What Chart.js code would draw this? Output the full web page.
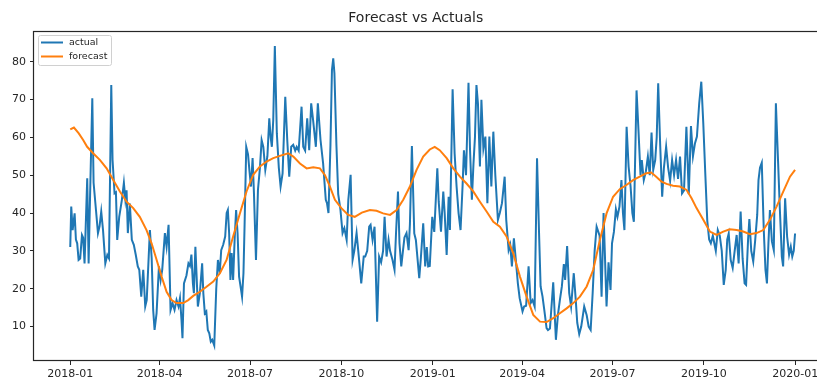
<!DOCTYPE html>
<html>
<head>
<meta charset="utf-8">
<title>Forecast vs Actuals</title>
<script src="https://cdn.jsdelivr.net/npm/chart.js@4/dist/chart.umd.min.js"></script>
<style>
  html, body { margin: 0; padding: 0; background: #fff; overflow: hidden; }
  #wrap { width: 840px; height: 380px; }
</style>
</head>
<body>
<div id="wrap"><canvas id="chart" width="840" height="380"></canvas></div>
<script>
// x values are days since 2018-01-01
const tickDays = [0, 90, 181, 273, 365, 455, 546, 638, 730];
const tickLabels = ['2018-01', '2018-04', '2018-07', '2018-10', '2019-01', '2019-04', '2019-07', '2019-10', '2020-01'];
const yTicks = [10, 20, 30, 40, 50, 60, 70, 80];

const actualDay = [
  0, 1, 2.4, 4.4, 5.7, 7, 8.4, 10, 11.8, 13, 14.4, 17.1, 18.5, 20, 22.2, 23.5, 25.9, 27.9, 29.5, 31.2,
  33, 35.3, 37.3, 39, 41.3, 42.6, 44.6, 46, 47.3, 49.3, 52, 54, 55.5, 56.7, 58, 60, 62, 64, 66, 68,
  69.5, 71.5, 73.5, 75.5, 77, 79, 80.2, 82, 83.5, 84.9, 86.9, 89.3, 91, 92.6, 95.3, 97, 99, 101, 103, 105,
  107, 109, 110.5, 112, 113, 114.5, 117, 119, 120.5, 122, 123.5, 124.5, 126, 128.5, 130.5, 132.8, 134, 135.5, 137, 138.5,
  140, 141.5, 143, 145, 147, 148.7, 150.5, 152, 154, 156, 157.5, 158.7, 160, 161.3, 162.5, 164, 165.5, 167, 168.5, 170,
  172, 173, 174.4, 175.5, 177.2, 179, 180.5, 182, 183.6, 185, 187, 189, 191, 192.7, 194.4, 196.4, 198.5, 200.4, 201.8, 203,
  204.4, 206, 208, 210, 211.8, 213.8, 216.5, 218.5, 220.5, 222.5, 224.5, 226.5, 228, 230, 232.9, 234.6, 236.5, 238.6, 240.6, 242.6,
  244.5, 247.3, 249.3, 252, 254.6, 257.3, 258.5, 260, 262, 263.5, 264.8, 266, 268, 269.8, 272, 274.2, 276, 278.3, 280, 282.3,
  284.3, 286, 288.3, 290, 293, 295.5, 297, 299, 301, 302.4, 304.4, 306.4, 309, 311, 313, 315, 316.5, 318.5, 320.5, 322,
  324.5, 326.5, 328, 330, 331.5, 333.3, 335, 336.5, 338.6, 340.7, 342, 344, 346.4, 348, 351.4, 353, 355.4, 357.4, 359, 360.4,
  362, 364.5, 366.5, 369.6, 371, 373.3, 375.6, 377, 379, 381, 382.3, 385, 387, 389, 391, 393, 395, 396.4, 398.5, 401,
  402.5, 404.4, 406, 407.5, 409, 410.5, 412.5, 414, 416, 418, 420, 422, 424, 426, 428, 430.6, 432.5, 434.7, 437.4, 439,
  441.4, 443, 444.7, 446.7, 448.5, 450.7, 452.5, 455.4, 457, 459, 461.5, 463.6, 465.5, 467.6, 470, 472, 473.6, 475.5, 477.5, 479.6,
  481, 483, 486.3, 489, 491, 493, 495, 497, 498.3, 500.3, 502.4, 504.3, 507, 509, 510.5, 512.5, 514.5, 517.5, 520, 522,
  524, 526, 528, 530, 533, 535, 537, 540, 542, 544, 545.5, 547.4, 549.4, 551, 553, 555, 556.5, 558, 560.2, 562.2,
  564.2, 566, 567.5, 570.2, 572.2, 574.2, 575.5, 577.5, 579.6, 581.6, 583.5, 585.3, 587, 589, 590.5, 592, 594, 596, 597.7, 600,
  602, 604, 606, 608, 610, 612, 614, 616, 618, 620.4, 622.8, 625, 627, 629, 631, 633.3, 635.4, 637.4, 639.4, 641.4,
  643.3, 645, 647, 648.5, 650, 652, 654, 656, 658, 660, 661.5, 663, 665, 667, 669, 671, 673, 675, 677, 679,
  680.5, 682.5, 683.8, 685.7, 687.7, 689.7, 691.7, 693, 694.5, 696.3, 698.3, 700, 701.5, 703, 704.5, 706.5, 708.4, 710.5, 712.5, 714.5,
  716.5, 717.8, 719.8, 721.8, 723.8, 725.5, 727, 728.5, 729.8
];
const actualValue = [
  31, 41.7, 35.5, 39.9, 33, 32, 27.6, 28, 34.2, 33.5, 26.7, 49.2, 26.7, 45, 70.3, 48, 40.8, 34.7, 36.5, 40.4,
  35.5, 26.7, 28.9, 28, 73.8, 54, 45.2, 45.5, 32.9, 39, 43.5, 48, 43.5, 46, 34.7, 42.5, 32.9, 31.6, 28.9, 25.9,
  25, 17.9, 25, 15.3, 17, 28.5, 35.5, 28, 14.4, 9.1, 13.5, 25.9, 22.3, 25, 34.7, 31.1, 36.9, 14.4, 16.2, 14.4,
  17, 15.3, 17.5, 11.8, 6.9, 21.4, 23.5, 26.7, 26, 29, 21.4, 18.8, 31.1, 15.3, 18.8, 26.7, 18.8, 13.5, 14, 9.1,
  8.2, 6, 6.5, 5, 20, 27.6, 24.1, 30.2, 31.6, 33.8, 40, 40.8, 34.6, 22.3, 29.4, 22.3, 32.9, 40.8, 34.6, 23.2,
  19.7, 17.9, 24.1, 36.4, 57.5, 55.5, 51, 47, 54.5, 45, 27.6, 46.1, 52, 59.3, 57.5, 51.4, 55, 65, 60, 57.5,
  64.6, 84.1, 61.1, 52, 47, 50.5, 70.7, 59.3, 49.6, 57.5, 58, 56.5, 57.5, 56.5, 68.1, 57.5, 56.5, 65, 56.6, 69,
  64.6, 57.5, 69, 59.3, 53.1, 43.5, 42.6, 40, 58, 77.8, 80.9, 76.9, 58, 45, 41, 34.7, 36, 32.9, 43.5, 50.1,
  27.6, 30, 34.7, 30, 21.4, 28.5, 28.5, 30, 36.4, 36.9, 32.9, 36.4, 11.3, 28.5, 27, 30, 39, 28.5, 32.9, 30,
  27.6, 25, 34.6, 45.7, 32, 25.9, 30, 33.5, 34.7, 30.2, 37, 57.7, 34.6, 32.9, 22.8, 28, 37.3, 25.9, 31, 25.9,
  26, 39, 35, 51.8, 43, 35.1, 45.7, 40, 28.9, 44.3, 35.5, 72.7, 55.8, 47, 40, 35.5, 47, 56.6, 50, 74.4,
  57, 43.5, 53, 60, 73.8, 69, 52.3, 69.9, 57, 60.2, 42.6, 60.2, 47, 61.5, 50, 38.2, 40, 42.6, 49.6, 38.2,
  30.2, 31.6, 25.9, 33.3, 28, 21.4, 17.5, 14, 15.3, 15.5, 25.9, 16.2, 17, 15.3, 54.5, 35, 20.6, 18, 14, 9.6,
  9.1, 9.5, 21.7, 6.5, 13, 17, 20.6, 26.5, 22.3, 31.3, 18.8, 15.3, 24.1, 17, 11, 8, 10, 15.3, 13, 10,
  9.1, 18.8, 30, 36.4, 34, 17.9, 40, 15.3, 27, 19.7, 32, 35, 41, 39, 41.7, 48.7, 40, 35.5, 62.8, 52.3,
  47, 40, 37.7, 72.4, 61.5, 50, 54, 48.7, 51, 54.9, 50, 61.3, 51.4, 54, 60, 74.3, 58, 44.3, 51.8, 57.5,
  52, 48.5, 54, 50, 54, 49, 54.9, 45.2, 46, 62.8, 45, 63, 55, 58.4, 60.2, 69, 74.7, 63.7, 50.5, 38,
  33, 32, 34, 32, 30, 35.5, 34, 30, 21, 25, 33, 34.6, 27.6, 25.5, 30, 34.2, 26.7, 40.4, 28, 21.4,
  21, 33, 38.4, 30, 27.2, 32.9, 39.5, 48.7, 52, 53.3, 35.5, 25, 21.4, 32, 40.8, 32.5, 30.2, 69, 55, 41,
  28.5, 25.9, 43.9, 33.8, 29, 31.1, 28.5, 30, 34.6
];

const forecastDay = [
  0, 3.7, 8.4, 13, 17, 23, 30, 36.6, 43.3, 50, 56.7, 63.4, 70, 76.8, 81.9, 87, 92, 97, 102, 107,
  113.8, 118.8, 123.8, 130.5, 137.2, 144, 150.7, 157.4, 164, 170.8, 177.5, 184.2, 191, 197.7, 204.4, 211, 219.5, 224.6, 231.3, 238,
  244.7, 251.4, 256.5, 261.5, 266.5, 273, 279.8, 286.5, 293.6, 301.7, 308.4, 315, 322, 328.6, 335.3, 342, 348.7, 355.4, 362, 367,
  372, 379, 385.7, 392.4, 399, 405.8, 412.5, 419.2, 426, 432.6, 439.3, 446, 452.8, 459.5, 466.2, 473, 479.6, 486.3, 493, 499.8,
  506.5, 513.2, 520, 526.6, 533.3, 540, 546.6, 553.3, 560, 566.7, 573.4, 580, 585, 590, 595.4, 600.4, 607, 613.8, 620.6, 625.6,
  630.6, 637.4, 644, 650.8, 657.5, 664, 671, 677.6, 684.3, 691, 697.8, 704.5, 711.2, 718, 724.7, 729.8
];
const forecastValue = [
  62.1, 62.6, 61.1, 59.3, 57.5, 55.8, 54, 51.8, 48.7, 45.7, 43, 41.3, 39, 35.5, 32, 27.6, 23.2, 19.2, 17, 16.2,
  16.2, 17, 18.1, 19.2, 20.5, 21.9, 24.1, 27.6, 33.8, 39.9, 45.7, 50.1, 52.3, 53.6, 54.5, 55.1, 55.8, 54.9, 53.1, 51.8,
  52.1, 51.8, 50, 47, 43.5, 41.3, 39.5, 39, 40.1, 40.8, 40.6, 39.9, 39.5, 40.8, 43.5, 47, 51.4, 54.9, 56.8, 57.5,
  56.6, 54.5, 51.8, 49.6, 47.8, 45.7, 43, 40.4, 37.7, 36.4, 33.8, 29.4, 23.2, 17.9, 13.1, 11.3, 11.2, 12.2, 13.5, 14.8,
  16.2, 17.9, 20.6, 25, 32.9, 39.9, 44.3, 46.3, 47.4, 48.7, 49.6, 50.5, 50.7, 49.6, 48.3, 47.7, 47.2, 47, 46.1, 43.9,
  41.3, 38.2, 35.1, 34.2, 35.1, 35.7, 35.5, 35.1, 34.4, 34.7, 35.5, 38.2, 41.7, 45.7, 49.6, 51.4
];

const FONT = 'DejaVu Sans';
const INK = '#262626';

function toPoints(xs, ys) {
  return xs.map((x, i) => ({ x, y: ys[i] }));
}

// matplotlib-style frame round the plot area
const framePlugin = {
  id: 'frame',
  afterDraw(chart) {
    const { ctx, chartArea: a } = chart;
    ctx.save();
    ctx.strokeStyle = INK;
    ctx.lineWidth = 1.2;
    ctx.strokeRect(Math.round(a.left) - 0.5, Math.round(a.top) + 0.5,
                   Math.round(a.right - a.left) + 1, Math.round(a.bottom - a.top) - 1);
    ctx.restore();
  }
};

// legend box in the upper left corner of the plot
const boxLegendPlugin = {
  id: 'boxLegend',
  afterDraw(chart) {
    const { ctx, chartArea: a } = chart;
    const x = a.left + 4, y = a.top + 4, w = 73, h = 30;
    ctx.save();
    ctx.fillStyle = 'rgba(255,255,255,0.85)';
    ctx.strokeStyle = '#d0d0d0';
    ctx.lineWidth = 1;
    ctx.beginPath();
    ctx.roundRect(x + 0.5, y + 0.5, w, h, 2);
    ctx.fill();
    ctx.stroke();
    ctx.font = `9.5px "${FONT}"`;
    ctx.textBaseline = 'middle';
    chart.data.datasets.forEach((ds, i) => {
      const ly = y + 7.5 + i * 14;
      ctx.strokeStyle = ds.borderColor;
      ctx.lineWidth = 2;
      ctx.beginPath();
      ctx.moveTo(x + 3, ly);
      ctx.lineTo(x + 25, ly);
      ctx.stroke();
      ctx.fillStyle = INK;
      ctx.fillText(ds.label, x + 31, ly);
    });
    ctx.restore();
  }
};

new Chart(document.getElementById('chart'), {
  type: 'line',
  data: {
    datasets: [
      {
        label: 'actual',
        data: toPoints(actualDay, actualValue),
        borderColor: '#1f77b4',
        borderWidth: 2,
        pointRadius: 0,
        tension: 0,
        order: 2
      },
      {
        label: 'forecast',
        data: toPoints(forecastDay, forecastValue),
        borderColor: '#ff7f0e',
        borderWidth: 2,
        pointRadius: 0,
        tension: 0,
        order: 1
      }
    ]
  },
  options: {
    responsive: false,
    animation: false,
    layout: { padding: { left: 0, right: 8.5, top: 0, bottom: 0 } },
    plugins: {
      legend: { display: false },
      tooltip: { enabled: false },
      title: {
        display: true,
        text: 'Forecast vs Actuals',
        color: INK,
        font: { family: FONT, size: 14, weight: 'normal' },
        padding: { top: 9.6, bottom: 4.6 }
      }
    },
    scales: {
      x: {
        type: 'linear',
        min: -36.5,
        max: 766.5,
        afterBuildTicks: (scale) => { scale.ticks = tickDays.map(v => ({ value: v })); },
        afterFit: (scale) => { scale.height = 19; },
        ticks: {
          autoSkip: false,
          maxRotation: 0,
          padding: 3,
          color: INK,
          font: { family: FONT, size: 11 },
          callback: (value) => tickLabels[tickDays.indexOf(value)]
        },
        grid: { drawOnChartArea: false, drawTicks: true, tickLength: 4, color: INK },
        border: { display: false }
      },
      y: {
        min: 0.9,
        max: 88.1,
        afterBuildTicks: (scale) => { scale.ticks = yTicks.map(v => ({ value: v })); },
        afterFit: (scale) => { scale.width = 34; },
        ticks: {
          padding: 4,
          color: INK,
          font: { family: FONT, size: 11 }
        },
        grid: { drawOnChartArea: false, drawTicks: true, tickLength: 4, color: INK },
        border: { display: false }
      }
    }
  },
  plugins: [framePlugin, boxLegendPlugin]
});
</script>
</body>
</html>
